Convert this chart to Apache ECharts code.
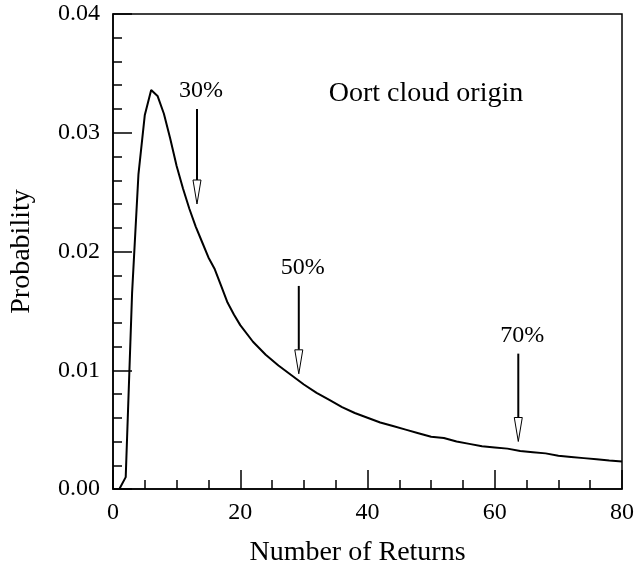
<!DOCTYPE html>
<html>
<head>
<meta charset="utf-8">
<script src="https://cdn.jsdelivr.net/npm/echarts@6/dist/echarts.min.js"></script>
<style>html,body{margin:0;padding:0;background:#fff}#c{width:637px;height:572px}</style>
</head>
<body>
<div id="c"></div>
<script>
const returnsX = [1,2,3,4,5,6,7,8,9,10,11,12,13,14,15,16,17,18,19,20,22,24,26,28,30,32,34,36,38,40,42,44,46,48,50,52,54,56,58,60,62,64,66,68,70,72,74,76,78,80];
const probability = [0,0.001,0.0165,0.0265,0.0315,0.0336,0.0331,0.0316,0.0295,0.0272,0.0253,0.0236,0.0221,0.0208,0.0195,0.0185,0.0171,0.0157,0.0147,0.0138,0.0124,0.0113,0.0104,0.0096,0.0088,0.0081,0.0075,0.0069,0.0064,0.0060,0.0056,0.0053,0.0050,0.0047,0.0044,0.0043,0.0040,0.0038,0.0036,0.0035,0.0034,0.0032,0.0031,0.0030,0.0028,0.0027,0.0026,0.0025,0.0024,0.00232];
const arrowLabels = ['30%','50%','70%'];
const arrowX = [13.2, 29.2, 63.7];
const arrowTop = [0.0320, 0.0171, 0.0114];
const arrowTip = [0.0240, 0.0097, 0.0040];
const xTicks = {min:0, max:80, interval:20};
const yTicks = {min:0, max:0.04, interval:0.01};
const xTitle = 'Number of Returns';
const yTitle = 'Probability';
const panelLabel = 'Oort cloud origin';

const FONT = "'Liberation Serif', 'Times New Roman', serif";
const chart = echarts.init(document.getElementById('c'), null, {renderer:'canvas'});
const axisCommon = {
  axisLine:{show:true, lineStyle:{color:'#000', width:1.5}},
  axisTick:{show:true, inside:true, length:19, lineStyle:{color:'#000', width:1.5}},
  minorTick:{show:true, length:9, lineStyle:{color:'#000', width:1.5}},
  splitLine:{show:false},
  minorSplitLine:{show:false}
};
chart.setOption({
  animation:false,
  backgroundColor:'#fff',
  grid:{left:110, right:6, top:14, bottom:81, show:true, borderColor:'#000', borderWidth:1.5, backgroundColor:'transparent'},
  xAxis:Object.assign({
    type:'value', min:xTicks.min, max:xTicks.max, interval:xTicks.interval,
    name:xTitle, nameLocation:'middle', nameGap:50,
    nameTextStyle:{fontFamily:FONT, fontSize:28, color:'#000', padding:[0,20,0,0]},
    axisLabel:{fontFamily:FONT, fontSize:24, color:'#000', margin:12}
  }, axisCommon, {minorTick:Object.assign({}, axisCommon.minorTick, {splitNumber:4})}),
  yAxis:Object.assign({
    type:'value', min:yTicks.min, max:yTicks.max, interval:yTicks.interval,
    name:yTitle, nameLocation:'middle', nameGap:77, nameRotate:90,
    nameTextStyle:{fontFamily:FONT, fontSize:28, color:'#000'},
    axisLabel:{fontFamily:FONT, fontSize:24, color:'#000', margin:13, formatter:v=>v.toFixed(2)}
  }, axisCommon, {minorTick:Object.assign({}, axisCommon.minorTick, {splitNumber:5})}),
  graphic:[{type:'text', x:426, y:94, style:{text:panelLabel, font:'28px '+FONT, fill:'#000', textAlign:'center', textVerticalAlign:'middle'}}],
  series:[
    {type:'line', data:returnsX.map((x,i)=>[x, probability[i]]), showSymbol:false, symbol:'none',
     lineStyle:{color:'#000', width:2}, smooth:false},
    {type:'custom', clip:false,
     data:arrowX.map((x,i)=>[x, arrowTop[i], arrowTip[i], i]),
     encode:{x:0, y:[1,2]},
     renderItem:function(params, api){
       const top = api.coord([api.value(0), api.value(1)]);
       const tip = api.coord([api.value(0), api.value(2)]);
       const idx = api.value(3);
       const hh = 24, hw = 4;
       return {type:'group', children:[
         {type:'line', shape:{x1:top[0], y1:top[1], x2:tip[0], y2:tip[1]-hh}, style:{stroke:'#000', lineWidth:2}},
         {type:'polygon', shape:{points:[[tip[0]-hw, tip[1]-hh],[tip[0]+hw, tip[1]-hh],[tip[0], tip[1]]]}, style:{fill:'#fff', stroke:'#000', lineWidth:1}},
         {type:'text', x:top[0]+4, y:top[1]-18, style:{text:arrowLabels[idx], font:'24px '+FONT, fill:'#000', textAlign:'center', textVerticalAlign:'middle'}}
       ]};
     }
    }
  ]
});
</script>
</body>
</html>
